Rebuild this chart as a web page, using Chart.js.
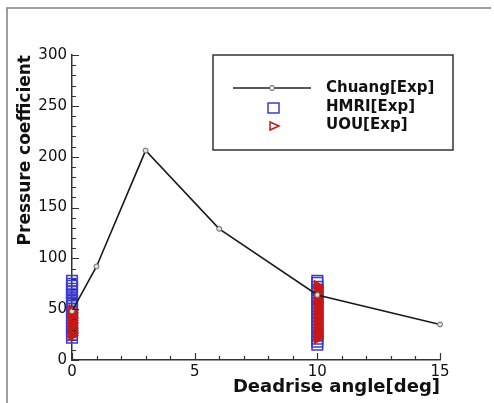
<!DOCTYPE html>
<html>
<head>
<meta charset="utf-8">
<script src="https://cdn.jsdelivr.net/npm/chart.js@4/dist/chart.umd.min.js"></script>
<style>
  html, body { margin: 0; padding: 0; background: #fff; }
  #wrap { width: 494px; height: 403px; position: relative; }
</style>
</head>
<body>
<div id="wrap"><canvas id="myChart" width="494" height="403"></canvas></div>
<script>
// Chuang[Exp] line
const chuangX = [0, 1, 3, 6, 10, 15];
const chuangY = [48, 92, 206, 129, 64, 35];

// HMRI[Exp] squares (columns at 0 and 10 deg)
const hmriAt0 = [78, 75, 73, 70, 67, 64, 61, 58, 55, 53, 50, 47, 44, 41, 38, 34, 31, 28, 25, 22];
const hmriAt10 = [78, 76, 72, 69, 66, 62, 59, 56, 53, 50, 46, 43, 40, 37, 33, 30, 27, 24, 21, 18, 15];

// UOU[Exp] triangles
const uouAt0 = [49, 47, 46, 44, 42, 41, 39, 37, 36, 34, 32, 31, 29, 27, 26, 24];
const uouAt10 = [73, 71, 69, 67, 65, 63, 61, 59, 57, 55, 53, 51, 49, 47, 45, 43, 41, 39, 37, 35, 33, 31, 29, 27, 25, 23, 21];

const xTicks = [0, 5, 10, 15];
const yTicks = [0, 50, 100, 150, 200, 250, 300];

const seriesNames = ['Chuang[Exp]', 'HMRI[Exp]', 'UOU[Exp]'];
const blue = '#3c3ccc';
const red = '#c81818';

function column(x, vals) {
  return vals.map(v => ({x: x, y: v}));
}

// inward ticks, frame and legend box
const decor = {
  id: 'decor',
  beforeDraw(chart) {
    const ctx = chart.ctx;
    ctx.save();
    ctx.strokeStyle = '#808080';
    ctx.lineWidth = 1.5;
    ctx.beginPath();
    ctx.moveTo(7, 403);
    ctx.lineTo(7, 8);
    ctx.lineTo(491, 8);
    ctx.stroke();
    ctx.restore();
  },
  afterDraw(chart) {
    const ctx = chart.ctx;
    const xs = chart.scales.x, ys = chart.scales.y;
    const a = chart.chartArea;
    ctx.save();
    ctx.strokeStyle = '#333';
    ctx.lineWidth = 1.2;
    ctx.beginPath();
    for (let v = 0; v <= 300; v += 10) {
      const py = Math.round(ys.getPixelForValue(v)) + 0.5;
      const len = v % 50 === 0 ? 7 : 4;
      ctx.moveTo(a.left, py);
      ctx.lineTo(a.left + len, py);
    }
    for (let v = 0; v <= 15; v += 1) {
      const px = Math.round(xs.getPixelForValue(v)) + 0.5;
      const len = v % 5 === 0 ? 7 : 4;
      ctx.moveTo(px, a.bottom);
      ctx.lineTo(px, a.bottom - len);
    }
    ctx.stroke();

    // legend
    ctx.fillStyle = '#fff';
    ctx.fillRect(213, 55, 240, 95);
    ctx.strokeStyle = '#333';
    ctx.lineWidth = 1.5;
    ctx.strokeRect(213, 55, 240, 95);

    ctx.strokeStyle = '#222';
    ctx.lineWidth = 1.5;
    ctx.beginPath();
    ctx.moveTo(233, 88);
    ctx.lineTo(311, 88);
    ctx.stroke();
    ctx.fillStyle = '#fff';
    ctx.strokeStyle = '#555';
    ctx.lineWidth = 1;
    ctx.beginPath();
    ctx.arc(272, 88, 2.5, 0, Math.PI * 2);
    ctx.fill();
    ctx.stroke();

    ctx.strokeStyle = blue;
    ctx.lineWidth = 1.5;
    ctx.strokeRect(268, 103, 11, 10);

    ctx.strokeStyle = red;
    ctx.beginPath();
    ctx.moveTo(270, 122);
    ctx.lineTo(279, 126);
    ctx.lineTo(270, 130);
    ctx.closePath();
    ctx.stroke();

    ctx.fillStyle = '#111';
    ctx.font = 'bold 15px "DejaVu Sans"';
    ctx.textBaseline = 'middle';
    ctx.fillText(seriesNames[0], 326, 88);
    ctx.fillText(seriesNames[1], 326, 107);
    ctx.fillText(seriesNames[2], 326, 125);
    ctx.restore();
  }
};

function myLoadFunction() {
  const ctx = document.getElementById('myChart').getContext('2d');
  new Chart(ctx, {
    type: 'scatter',
    data: {
      datasets: [
        {
          label: seriesNames[0],
          data: chuangX.map((x, i) => ({x: x, y: chuangY[i]})),
          showLine: true,
          borderColor: '#1a1a1a',
          borderWidth: 1.6,
          pointStyle: 'circle',
          pointRadius: 2.5,
          pointBorderColor: '#666',
          pointBackgroundColor: '#ddd',
          pointBorderWidth: 1,
          clip: false
        },
        {
          label: seriesNames[2],
          data: column(0, uouAt0).concat(column(10, uouAt10)),
          pointStyle: 'triangle',
          rotation: 90,
          pointRadius: 5.5,
          borderColor: red,
          backgroundColor: 'rgba(200,24,24,0.75)',
          pointBorderWidth: 1.5,
          clip: false
        },
        {
          label: seriesNames[1],
          data: column(0, hmriAt0).concat(column(10, hmriAt10)),
          pointStyle: 'rect',
          pointRadius: 7.5,
          borderColor: blue,
          backgroundColor: 'rgba(0,0,0,0)',
          pointBorderWidth: 1.5,
          clip: false
        }
      ]
    },
    options: {
      responsive: false,
      animation: false,
      events: [],
      layout: { padding: { top: 55, right: 54, left: 0, bottom: 0 } },
      plugins: {
        legend: { display: false },
        tooltip: { enabled: false }
      },
      scales: {
        x: {
          type: 'linear',
          min: 0,
          max: 15,
          afterBuildTicks: s => { s.ticks = xTicks.map(v => ({value: v})); },
          afterFit: s => { s.height = 43; },
          grid: { display: false, drawTicks: false },
          border: { display: true, color: '#333', width: 1.5 },
          ticks: { color: '#111', padding: 3, font: { family: 'DejaVu Sans', size: 15 } },
          title: {
            display: true,
            text: 'Deadrise angle[deg]',
            align: 'end',
            color: '#111',
            padding: { bottom: 5 },
            font: { family: 'DejaVu Sans', size: 18, weight: 'bold' }
          }
        },
        y: {
          type: 'linear',
          min: 0,
          max: 300,
          afterBuildTicks: s => { s.ticks = yTicks.map(v => ({value: v})); },
          afterFit: s => { s.width = 72; },
          grid: { display: false, drawTicks: false },
          border: { display: true, color: '#333', width: 1.5 },
          ticks: { color: '#111', padding: 5, font: { family: 'DejaVu Sans', size: 15 } },
          title: {
            display: true,
            text: 'Pressure coefficient',
            align: 'end',
            color: '#111',
            padding: { top: 15 },
            font: { family: 'DejaVu Sans', size: 17, weight: 'bold' }
          }
        }
      }
    },
    plugins: [decor]
  });
}
document.addEventListener('DOMContentLoaded', myLoadFunction);
</script>
</body>
</html>
